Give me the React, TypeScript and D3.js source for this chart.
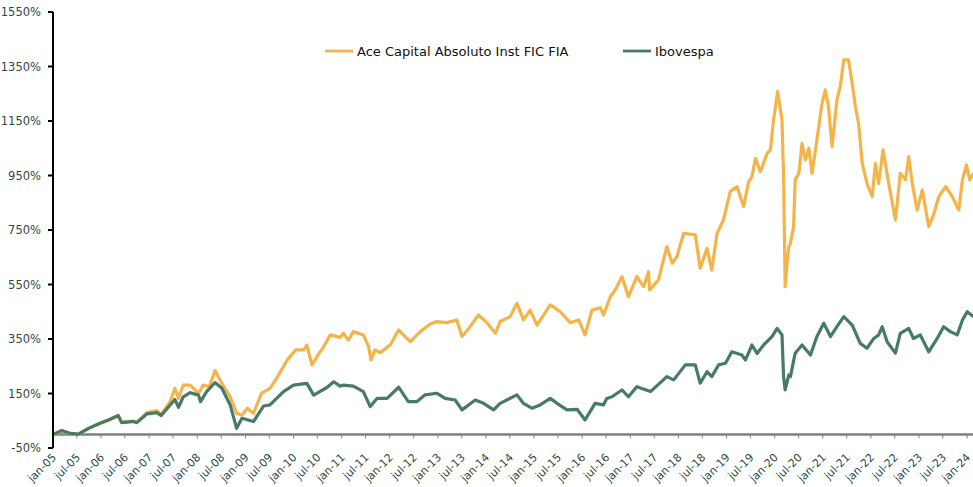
import React, { useRef, useEffect } from "react"
import * as d3 from "d3"

// months since jan-05, cumulative return in %
const aceMonths = [0, 2.2, 4.2, 6.3, 8.8, 11.7, 13.8, 16.3, 17.1, 20, 20.9, 23.4, 25.9, 27, 29.2, 30.4, 31.3, 32.5, 34.2, 36.3, 37.5, 39, 40.4, 42.1, 44.2, 45.8, 47.1, 48.5, 50, 52, 54.1, 56, 58.4, 60.5, 62.5, 63.3, 64.6, 65.8, 67.5, 69.2, 71.6, 72.4, 73.7, 74.9, 77.4, 78.7, 79.3, 80.3, 81.6, 84.1, 86.2, 89.1, 91.6, 94.1, 95.7, 98.2, 100.7, 102, 104, 106.1, 108.2, 110.3, 111.5, 114, 115.7, 117.3, 119, 120.7, 124, 126.5, 129, 131.1, 132.7, 134.4, 136.5, 137.3, 139, 140.2, 141.9, 143.5, 145.6, 147.3, 148.5, 148.8, 151, 153.1, 154.4, 155.6, 157.3, 160.2, 161.4, 163.1, 164.3, 165.6, 167.2, 168.9, 170.6, 172.2, 173.5, 174.3, 175.2, 176.4, 178.1, 178.9, 179.7, 180.7, 181.8, 182.2, 182.6, 183, 183.5, 183.9, 184.7, 185.1, 186, 186.8, 187.6, 188.5, 189.3, 190.5, 191.8, 192.6, 193.4, 194.3, 195.5, 196.4, 197.2, 198.4, 199.3, 200.1, 200.9, 201.8, 203, 204.3, 205.1, 205.9, 207, 208.4, 210.1, 211.3, 212.6, 213.4, 214.3, 215.5, 216.8, 218.4, 219.7, 220.9, 222.6, 224.3, 225.9, 226.8, 227.8, 228.6, 229.6]
const aceReturns = [0, 12, 3, 0, 20, 40, 52, 68, 44, 48, 44, 80, 87, 74, 120, 169, 132, 181, 181, 151, 181, 175, 234, 187, 138, 77, 71, 96, 77, 151, 169, 212, 273, 310, 310, 328, 255, 285, 322, 365, 356, 371, 346, 377, 365, 322, 273, 310, 300, 328, 383, 340, 377, 405, 414, 410, 420, 359, 395, 438, 410, 371, 414, 432, 481, 420, 456, 401, 475, 450, 410, 420, 365, 456, 465, 438, 505, 530, 579, 505, 579, 542, 597, 530, 567, 689, 628, 652, 738, 732, 610, 683, 603, 738, 787, 891, 909, 836, 927, 946, 1013, 964, 1031, 1044, 1154, 1258, 1154, 946, 542, 620, 689, 701, 762, 934, 958, 1068, 1007, 1050, 958, 1080, 1215, 1264, 1203, 1056, 1227, 1282, 1374, 1374, 1288, 1203, 1142, 995, 921, 872, 995, 921, 1044, 921, 787, 958, 934, 1019, 921, 823, 897, 762, 811, 872, 909, 872, 823, 934, 989, 934, 958]

const iboMonths = [0, 2.2, 4.2, 6.3, 8.8, 11.7, 13.8, 16.3, 17.1, 20, 20.9, 23.4, 25.9, 27, 29.2, 30.4, 31.3, 32.5, 34.2, 36.3, 36.8, 38.3, 40.4, 42.1, 44.2, 45.8, 47.1, 48.7, 50, 52.5, 54.1, 57.5, 60, 63.3, 65, 68.3, 70, 71.6, 72.4, 74.9, 77.4, 79.1, 80.8, 83.3, 86.2, 88.6, 90.7, 92.8, 95.7, 97.8, 100.3, 102, 105.3, 107.4, 109.9, 111.5, 115.7, 117.3, 119.4, 121.5, 124, 125.7, 128.2, 130.7, 132.7, 135.2, 137.3, 138.1, 139.4, 141.9, 143.5, 145.6, 149, 153.1, 154.8, 157.7, 160.2, 161.4, 163.1, 164.3, 166, 167.7, 169.3, 171.8, 172.7, 174.3, 175.6, 177.2, 179.3, 180.6, 181.8, 182.2, 182.6, 183.5, 183.9, 185.1, 186.8, 188.9, 190.5, 192.2, 193.9, 195.5, 197.2, 199.3, 201.3, 203, 204.7, 205.9, 206.8, 208, 210.1, 211.3, 213.4, 214.6, 216.3, 218.4, 220.5, 222.1, 223.8, 225.5, 226.8, 228, 229.6]
const iboReturns = [0, 14, 4, 1, 22, 41, 53, 69, 43, 48, 43, 75, 80, 69, 108, 128, 99, 138, 153, 144, 120, 157, 190, 169, 108, 22, 59, 53, 47, 104, 108, 157, 181, 187, 144, 172, 193, 177, 181, 177, 157, 102, 132, 132, 173, 120, 120, 145, 151, 132, 126, 90, 126, 114, 90, 114, 145, 114, 96, 108, 132, 114, 90, 92, 53, 114, 108, 132, 138, 163, 138, 175, 157, 212, 200, 255, 255, 188, 230, 212, 255, 261, 303, 291, 273, 328, 297, 328, 359, 389, 365, 212, 163, 218, 212, 298, 328, 291, 359, 408, 359, 395, 432, 401, 334, 316, 352, 365, 395, 340, 298, 371, 389, 352, 365, 303, 352, 395, 377, 365, 420, 450, 432]

const seriesNames = ["Ace Capital Absoluto Inst FIC FIA", "Ibovespa"]
const yTicks = [-50, 150, 350, 550, 750, 950, 1150, 1350, 1550]

const ACE = "#F4B449"
const IBO = "#477A67"
const LABEL = "#2F4A44"
const FONT = "'DejaVu Sans', Verdana, sans-serif"

const toDate = (m) => new Date(2005, 0, 1 + Math.round(m * 30.44))

export default function App() {
  const ref = useRef(null)

  useEffect(() => {
    const width = 973, height = 487
    const svg = d3.select(ref.current).attr("width", width).attr("height", height)
    svg.selectAll("*").remove()

    const x = d3.scaleTime()
      .domain([new Date(2005, 0, 1), new Date(2024, 1, 15)])
      .range([53, 973])
    const y = d3.scaleLinear().domain([-50, 1550]).range([448, 12])

    const line = d3.line()
      .x(d => x(d[0]))
      .y(d => y(d[1]))

    const ace = aceMonths.map((m, i) => [toDate(m), aceReturns[i]])
    const ibo = iboMonths.map((m, i) => [toDate(m), iboReturns[i]])

    // x axis sits on the 0% line
    const xTicks = d3.timeMonth.every(6).range(new Date(2005, 0, 1), new Date(2024, 1, 2))
    const xAxis = svg.append("g").attr("transform", "translate(0," + y(0) + ")")
    xAxis.append("line")
      .attr("x1", 53).attr("x2", 973)
      .attr("stroke", "#7f7f7f").attr("stroke-width", 2.5)
    xAxis.selectAll(".xt")
      .data(xTicks)
      .enter()
      .append("line")
      .attr("x1", d => x(d)).attr("x2", d => x(d))
      .attr("y1", 1).attr("y2", 4)
      .attr("stroke", "#7f7f7f").attr("stroke-width", 1)

    svg.selectAll(".xl")
      .data(xTicks)
      .enter()
      .append("text")
      .attr("transform", d => "translate(" + (x(d) + 4) + "," + 458 + ") rotate(-45)")
      .attr("text-anchor", "end")
      .attr("font-family", FONT)
      .attr("font-size", 11)
      .attr("fill", LABEL)
      .text(d => (d.getMonth() === 0 ? "jan" : "jul") + "-" + d3.timeFormat("%y")(d))

    // series
    svg.append("path")
      .datum(ace)
      .attr("d", line)
      .attr("fill", "none")
      .attr("stroke", ACE)
      .attr("stroke-width", 3.2)
      .attr("stroke-linejoin", "round")
    svg.append("path")
      .datum(ibo)
      .attr("d", line)
      .attr("fill", "none")
      .attr("stroke", IBO)
      .attr("stroke-width", 3.2)
      .attr("stroke-linejoin", "round")

    // y axis
    svg.append("line")
      .attr("x1", 53).attr("x2", 53)
      .attr("y1", y(1550)).attr("y2", y(-50))
      .attr("stroke", "#000").attr("stroke-width", 2)
    const yt = svg.selectAll(".yt").data(yTicks).enter().append("g")
      .attr("transform", d => "translate(0," + y(d) + ")")
    yt.append("line")
      .attr("x1", 48).attr("x2", 53)
      .attr("stroke", "#000").attr("stroke-width", 2)
    yt.append("text")
      .attr("x", 41)
      .attr("dy", "0.35em")
      .attr("text-anchor", "end")
      .attr("font-family", FONT)
      .attr("font-size", 11.5)
      .attr("fill", LABEL)
      .text(d => d + "%")

    // legend
    const legend = svg.selectAll(".lg")
      .data(seriesNames)
      .enter()
      .append("g")
      .attr("transform", (d, i) => "translate(" + (i === 0 ? 325 : 623) + ",51)")
    legend.append("line")
      .attr("x1", 0).attr("x2", 28)
      .attr("stroke", (d, i) => (i === 0 ? ACE : IBO))
      .attr("stroke-width", 2.8)
    legend.append("text")
      .attr("x", 32)
      .attr("dy", "0.35em")
      .attr("font-family", FONT)
      .attr("font-size", 13)
      .attr("fill", "#111")
      .text(d => d)
  }, [])

  return (
    <svg
      ref={ref}
      style={{ position: "absolute", left: 0, top: 0, display: "block" }}
    ></svg>
  )
}
